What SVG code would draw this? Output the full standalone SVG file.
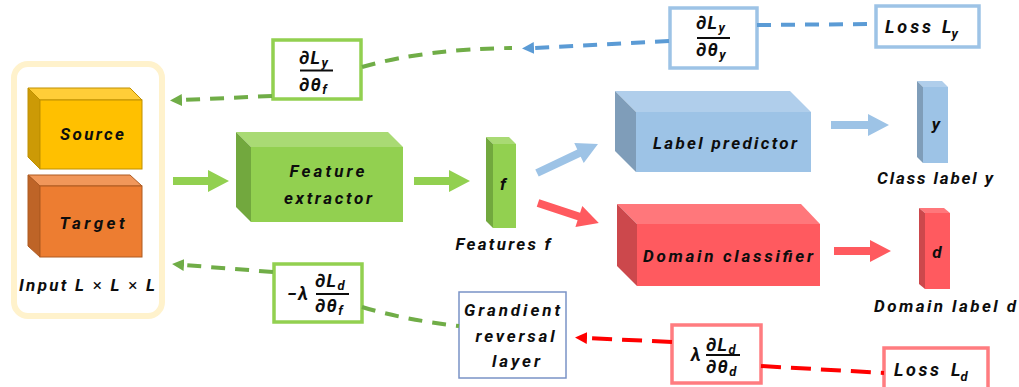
<svg xmlns="http://www.w3.org/2000/svg" width="1019" height="387" viewBox="0 0 1019 387">
<defs>
<style>
.lbl{font-family:Roboto,"Liberation Sans",sans-serif;font-weight:bold;font-style:italic;font-size:17px;fill:#0D0D0D}
.math{font-family:Roboto,"Liberation Sans",sans-serif;font-weight:bold;font-style:italic;font-size:18px;letter-spacing:1.5px;fill:#0D0D0D}
.sub{font-size:13px;letter-spacing:0}
.thin{font-weight:normal;font-style:normal}
.bar{stroke:#0D0D0D;stroke-width:2}
.dg{fill:none;stroke:#70AD47;stroke-width:4;stroke-dasharray:14 10}
.db{fill:none;stroke:#5B9BD5;stroke-width:4;stroke-dasharray:14 10}
.dr{fill:none;stroke:#FF0000;stroke-width:4;stroke-dasharray:20 10}
.bg{fill:#FFFFFF;stroke:#92D050;stroke-width:3.5}
.bb{fill:#FFFFFF;stroke:#9DC3E6;stroke-width:3.5}
.br{fill:#FFFFFF;stroke:#FF7C80;stroke-width:3.5}
.gF{fill:#92D050}.gT{fill:#A9DA74}.gL{fill:#72A83E}
.bF{fill:#9DC3E6}.bT{fill:#B0CEEB}.bL{fill:#7F9DB9}
.rF{fill:#FF5A5F}.rT{fill:#FF777B}.rL{fill:#CC484C}
</style>
<marker id="ag" markerUnits="userSpaceOnUse" markerWidth="12" markerHeight="12" viewBox="0 -6 12 12" refX="0" refY="0" orient="auto"><path d="M0,-6 L12,0 L0,6 Z" fill="#70AD47"/></marker>
<marker id="ab" markerUnits="userSpaceOnUse" markerWidth="12" markerHeight="12" viewBox="0 -6 12 12" refX="0" refY="0" orient="auto"><path d="M0,-6 L12,0 L0,6 Z" fill="#5B9BD5"/></marker>
<marker id="ar" markerUnits="userSpaceOnUse" markerWidth="12" markerHeight="12" viewBox="0 -6 12 12" refX="0" refY="0" orient="auto"><path d="M0,-6 L12,0 L0,6 Z" fill="#FF0000"/></marker>
</defs>
<rect width="1019" height="387" fill="#FFFFFF"/>

<g id="input">
<rect x="14" y="64" width="148" height="252" rx="14" fill="none" stroke="#FFF2CC" stroke-width="6"/>
<text class="lbl" x="19" y="291" textLength="136" lengthAdjust="spacing">Input L <tspan class="thin">×</tspan> L <tspan class="thin">×</tspan> L</text>
</g>

<g id="source">
<polygon points="28,88 130,88 142,100 40,100" fill="#FFCD38" stroke="#BF9000" stroke-width="1"/>
<polygon points="28,88 40,100 40,169 28,157" fill="#CC9A06" stroke="#BF9000" stroke-width="1"/>
<rect x="40" y="100" width="102" height="69" fill="#FFC000" stroke="#BF9000" stroke-width="1"/>
<text class="lbl" x="92" y="140" text-anchor="middle" textLength="64" lengthAdjust="spacing">Source</text>
</g>

<g id="target">
<polygon points="28,175 130,175 142,186 40,186" fill="#F1975A" stroke="#AE5A21" stroke-width="1"/>
<polygon points="28,175 40,186 40,257 28,246" fill="#BE6427" stroke="#AE5A21" stroke-width="1"/>
<rect x="40" y="186" width="102" height="71" fill="#ED7D31" stroke="#AE5A21" stroke-width="1"/>
<text class="lbl" x="92" y="229" text-anchor="middle" textLength="65" lengthAdjust="spacing">Target</text>
</g>

<g id="feature-extractor">
<polygon class="gT" points="236,132 388,132 403,147 251,147"/>
<polygon class="gL" points="236,132 251,147 251,222 236,207"/>
<rect class="gF" x="251" y="147" width="152" height="75"/>
<text class="lbl" x="327" y="177" text-anchor="middle" textLength="75" lengthAdjust="spacing">Feature</text>
<text class="lbl" x="328" y="204" text-anchor="middle" textLength="88" lengthAdjust="spacing">extractor</text>
</g>

<g id="features-f">
<polygon class="gT" points="486,137 509,137 516,144 493,144"/>
<polygon class="gL" points="486,137 493,144 493,228 486,221"/>
<rect class="gF" x="493" y="144" width="23" height="84"/>
<text class="lbl" x="503" y="190" text-anchor="middle">f</text>
<text class="lbl" x="503" y="250" text-anchor="middle" textLength="95" lengthAdjust="spacing">Features f</text>
</g>

<g id="label-predictor">
<polygon class="bT" points="615,91 790,91 811,112 636,112"/>
<polygon class="bL" points="615,91 636,112 636,172 615,151"/>
<rect class="bF" x="636" y="112" width="175" height="60"/>
<text class="lbl" x="725" y="149" text-anchor="middle" textLength="144" lengthAdjust="spacing">Label predictor</text>
</g>

<g id="class-label-y">
<polygon class="bT" points="917,81 942,81 948,87 923,87"/>
<polygon class="bL" points="917,81 923,87 923,163 917,157"/>
<rect class="bF" x="923" y="87" width="25" height="76"/>
<text class="lbl" x="936" y="130" text-anchor="middle">y</text>
<text class="lbl" x="935" y="184" text-anchor="middle" textLength="116" lengthAdjust="spacing">Class label y</text>
</g>

<g id="domain-classifier">
<polygon class="rT" points="617,204 801,204 820,224 637,224"/>
<polygon class="rL" points="617,204 637,224 637,286 617,266"/>
<rect class="rF" x="637" y="224" width="183" height="62"/>
<text class="lbl" x="728" y="262" text-anchor="middle" textLength="170" lengthAdjust="spacing">Domain classifier</text>
</g>

<g id="domain-label-d">
<polygon class="rT" points="919,208 944,208 950,213 925,213"/>
<polygon class="rL" points="919,208 925,213 925,289 919,284"/>
<rect class="rF" x="925" y="213" width="25" height="76"/>
<text class="lbl" x="937" y="258" text-anchor="middle">d</text>
<text class="lbl" x="945" y="312" text-anchor="middle" textLength="142" lengthAdjust="spacing">Domain label d</text>
</g>

<g id="grad-fy">
<rect class="bg" x="273" y="40" width="88" height="59"/>
<text class="math" x="299" y="64">∂L<tspan class="sub" dy="3">y</tspan></text>
<line class="bar" x1="300" y1="70.5" x2="333" y2="70.5"/>
<text class="math" x="299" y="91">∂θ<tspan class="sub" dy="3">f</tspan></text>
</g>

<g id="grad-yy">
<rect class="bb" x="670" y="8" width="87" height="60"/>
<text class="math" x="696" y="29">∂L<tspan class="sub" dy="3">y</tspan></text>
<line class="bar" x1="697" y1="38" x2="730" y2="38"/>
<text class="math" x="696" y="56">∂θ<tspan class="sub" dy="3">y</tspan></text>
</g>

<g id="loss-y">
<rect class="bb" x="876" y="6" width="103" height="41"/>
<text class="lbl" x="885" y="33" style="font-size:18px" textLength="46" lengthAdjust="spacing">Loss</text>
<text class="lbl" x="942" y="33" style="font-size:18px">L<tspan style="font-size:13px" dy="5">y</tspan></text>
</g>

<g id="grad-fd">
<rect class="bg" x="274" y="264" width="88" height="58"/>
<text class="math" x="287" y="300">−λ</text>
<text class="math" x="315" y="287">∂L<tspan class="sub" dy="3">d</tspan></text>
<line class="bar" x1="316" y1="294" x2="349" y2="294"/>
<text class="math" x="315" y="312">∂θ<tspan class="sub" dy="3">f</tspan></text>
</g>

<g id="grl">
<rect x="459" y="292" width="107" height="86" fill="#FFFFFF" stroke="#7A93C6" stroke-width="1.5"/>
<text class="lbl" x="512" y="316" text-anchor="middle" textLength="96" lengthAdjust="spacing">Grandient</text>
<text class="lbl" x="515" y="342" text-anchor="middle" textLength="79" lengthAdjust="spacing">reversal</text>
<text class="lbl" x="516" y="367" text-anchor="middle" textLength="48" lengthAdjust="spacing">layer</text>
</g>

<g id="grad-dd">
<rect class="br" x="672" y="325" width="89" height="58"/>
<text class="math" x="691" y="361">λ</text>
<text class="math" x="706" y="351">∂L<tspan class="sub" dy="3">d</tspan></text>
<line class="bar" x1="706" y1="355" x2="740" y2="355"/>
<text class="math" x="706" y="373">∂θ<tspan class="sub" dy="3">d</tspan></text>
</g>

<g id="loss-d">
<rect class="br" x="884" y="348" width="104" height="52"/>
<text class="lbl" x="894" y="376" style="font-size:18px" textLength="45" lengthAdjust="spacing">Loss</text>
<text class="lbl" x="951" y="376" style="font-size:18px">L<tspan style="font-size:13px" dy="5">d</tspan></text>
</g>

<g id="connectors">
<path d="M173,177 H208 V170 L229,181 L208,192 V185 H173 Z" fill="#92D050"/>
<path d="M414,177 H449 V170 L470,181 L449,192 V185 H414 Z" fill="#92D050"/>
<path d="M0,-4 H46.5 V-11 L67.5,0 L46.5,11 V4 H0 Z" fill="#9DC3E6" transform="translate(537,173) rotate(-25.4)"/>
<path d="M0,-4 H43 V-11 L64,0 L43,11 V4 H0 Z" fill="#FF5A5F" transform="translate(538,203) rotate(18.2)"/>
<path d="M831,121 H868 V114 L889,125 L868,136 V129 H831 Z" fill="#9DC3E6"/>
<path d="M834,247 H870 V240 L891,251 L870,262 V255 H834 Z" fill="#FF5A5F"/>
<path class="dg" d="M272,96 L182,100" marker-end="url(#ag)"/>
<path class="dg" d="M362,67 Q425,49 512,48"/>
<path class="db" d="M669,41 L534,48" marker-end="url(#ab)"/>
<path class="db" d="M757,25 L876,24"/>
<path class="dg" d="M273,272 L184,265" marker-end="url(#ag)"/>
<path class="dg" d="M362,307 Q405,320 459,326"/>
<path class="dr" d="M672,342 L587,338" marker-end="url(#ar)"/>
<path class="dr" d="M761,366 L884,373"/>
</g>
</svg>
